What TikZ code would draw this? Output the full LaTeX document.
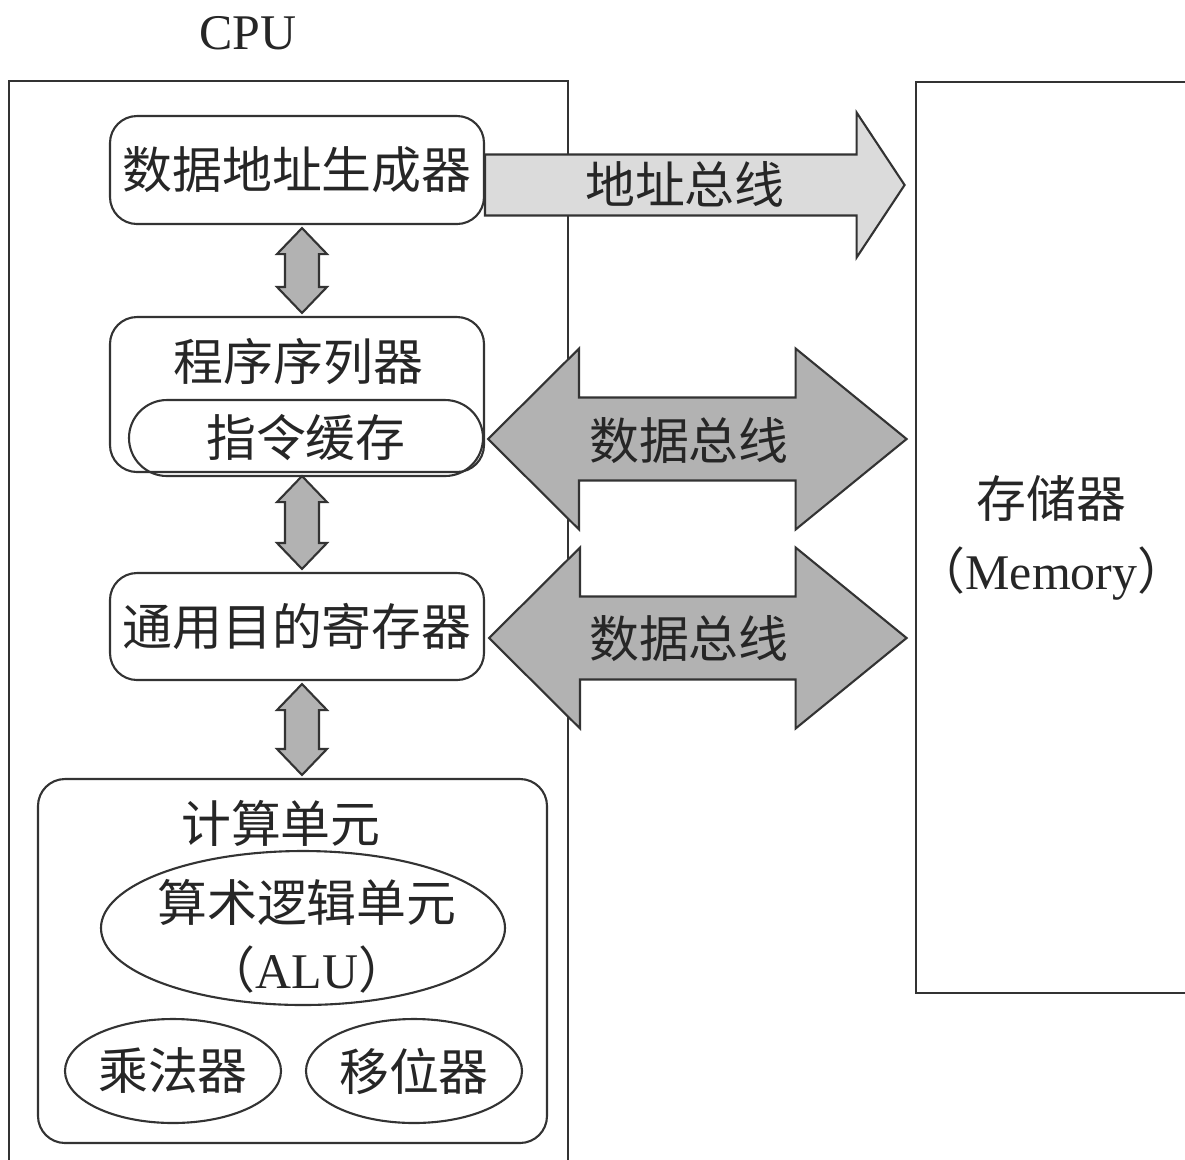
\documentclass[tikz,border=0pt]{standalone}
\usepackage{fontspec}
\setmainfont{Liberation Serif}
\newfontfamily\cjk{Noto Sans CJK SC}
\usetikzlibrary{calc,shapes.geometric}

\definecolor{busgray}{gray}{0.70}
\definecolor{addrgray}{gray}{0.86}

\begin{document}
\begin{tikzpicture}[
        % Define styles
        thinline/.style={draw=black!80, line width=0.6pt},
        unit/.style={thinline, rounded corners=0.27cm, minimum width=3.74cm, inner sep=0pt},
        part/.style={thinline, ellipse, inner sep=0pt},
        bus/.style={draw=black!80, line width=0.6pt, fill=busgray},
        every node/.style={font=\fontsize{14.2}{19}\selectfont, text=black!85}
    ]

        \useasboundingbox (0,0) rectangle (11.85,-11.59);
        \clip (0,0) rectangle (11.85,-11.59);

        % --- Frames ---
        \node (cpu_label) at (2.48,-0.33) {CPU};
        \node[thinline, minimum width=5.59cm, minimum height=10.81cm, inner sep=0pt] (cpu) at (2.885,-6.215) {};
        \node[thinline, minimum width=2.67cm, minimum height=9.11cm, inner sep=0pt, align=center] (mem) at (10.515,-5.375)
            {{\cjk 存储器}\\[0.05cm]{\cjk （}Memory{\cjk ）}};

        % --- CPU units ---
        \node[unit, minimum height=1.08cm] (dag) at (2.97,-1.70) {\cjk 数据地址生成器};
        \node[unit, minimum height=1.55cm] (seq) at (2.97,-3.945) {};
        \node (seq_text) at (2.985,-3.62) {\cjk 程序序列器};
        \node[unit, rounded corners=0.38cm, minimum width=3.54cm, minimum height=0.76cm] (cache) at (3.06,-4.38) {\cjk 指令缓存};
        \node[unit, minimum height=1.07cm] (gpr) at (2.97,-6.265) {\cjk 通用目的寄存器};

        % Compute unit
        \node[unit, minimum width=5.09cm, minimum height=3.64cm] (cu) at (2.925,-9.61) {};
        \node (cu_text) at (2.81,-8.23) {\cjk 计算单元};
        \node[part, minimum width=4.04cm, minimum height=1.54cm] (alu) at (3.03,-9.28) {};
        \node[align=center] (alu_text) at (3.07,-9.36) {{\cjk 算术逻辑单元}\\{\cjk （}ALU{\cjk ）}};
        \node[part, minimum width=2.16cm, minimum height=1.04cm] (mul) at (1.73,-10.71) {\cjk 乘法器};
        \node[part, minimum width=2.16cm, minimum height=1.04cm] (shift) at (4.14,-10.71) {\cjk 移位器};

        % --- Address bus ---
        \draw[bus, fill=addrgray] let \p1=([yshift=-0.15cm]dag.east), \p2=(mem.west) in
            (\x1,\y1+0.305cm) -- (\x2-0.58cm,\y1+0.305cm) -- (\x2-0.58cm,\y1+0.725cm)
            -- (\x2-0.10cm,\y1) -- (\x2-0.58cm,\y1-0.725cm) -- (\x2-0.58cm,\y1-0.305cm)
            -- (\x1,\y1-0.305cm) -- cycle;
        \node (addr_text) at (6.85,-1.84) {\cjk 地址总线};

        % --- Data buses ---
        \foreach \src/\dy in {cache/-0.01, gpr/-0.115} {
            \draw[bus] let \p1=([yshift=\dy cm]\src.east), \p2=(mem.west) in
                (\x1+0.04cm,\y1) -- (\x1+0.95cm,\y1+0.905cm) -- (\x1+0.95cm,\y1+0.415cm)
                -- (\x2-1.19cm,\y1+0.415cm) -- (\x2-1.19cm,\y1+0.905cm) -- (\x2-0.08cm,\y1)
                -- (\x2-1.19cm,\y1-0.905cm) -- (\x2-1.19cm,\y1-0.415cm)
                -- (\x1+0.95cm,\y1-0.415cm) -- (\x1+0.95cm,\y1-0.905cm) -- cycle;
        }
        \node (data_text_a) at (6.89,-4.41) {\cjk 数据总线};
        \node (data_text_b) at (6.89,-6.39) {\cjk 数据总线};

        % --- Links between units ---
        \foreach \upper/\lower in {dag/seq, seq/gpr, gpr/cu} {
            \draw[bus] let \p1=([xshift=0.05cm]\upper.south), \p2=(\lower.north) in
                (\x1,\y1-0.03cm) -- (\x1+0.25cm,\y1-0.29cm) -- (\x1+0.17cm,\y1-0.29cm)
                -- (\x1+0.17cm,\y2+0.29cm) -- (\x1+0.25cm,\y2+0.29cm) -- (\x1,\y2+0.03cm)
                -- (\x1-0.25cm,\y2+0.29cm) -- (\x1-0.17cm,\y2+0.29cm)
                -- (\x1-0.17cm,\y1-0.29cm) -- (\x1-0.25cm,\y1-0.29cm) -- cycle;
        }

    \end{tikzpicture}
\end{document}
